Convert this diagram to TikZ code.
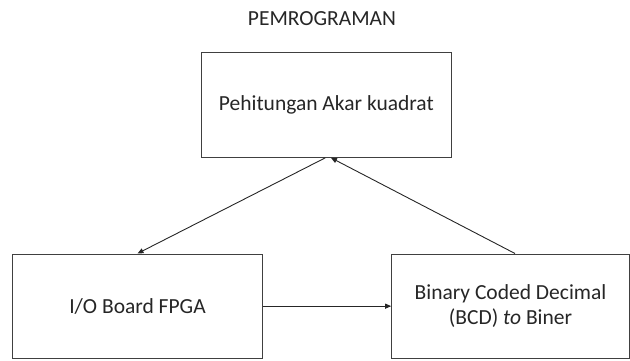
\documentclass[tikz,border=0pt]{standalone}
\usepackage{fontspec}
\setmainfont{Carlito}
\usetikzlibrary{arrows.meta}
\begin{document}
\begin{tikzpicture}[x=1pt,y=-1pt,
  every node/.style={text=black!85, font=\fontsize{21.5}{25.5}\selectfont},
  block/.style={draw=black!75, line width=1pt, inner sep=0pt, align=center},
  link/.style={draw=black!85, line width=0.9pt, -{Triangle[length=6pt,width=5pt]}}]
  \useasboundingbox (0,0) rectangle (630,360);
  \node (title) at (322,19) {PEMROGRAMAN};
  \node[block, minimum width=249.3pt, minimum height=105.3pt] (calc) at (326.35,104.65) {Pehitungan Akar kuadrat};
  \node[block, minimum width=249.6pt, minimum height=104.3pt] (io) at (137.5,306.15) {I/O Board FPGA};
  \node[block, minimum width=237.6pt, minimum height=104.3pt] (bcd) at (510.5,306.15) {Binary Coded Decimal\\(BCD) \textit{to} Biner};
  \draw[link] ([xshift=-1pt]calc.south) -- (io.north);
  \draw[link] ([xshift=4.5pt]bcd.north) -- ([xshift=4.6pt]calc.south);
  \draw[link] (io.east) -- (bcd.west);
\end{tikzpicture}
\end{document}
